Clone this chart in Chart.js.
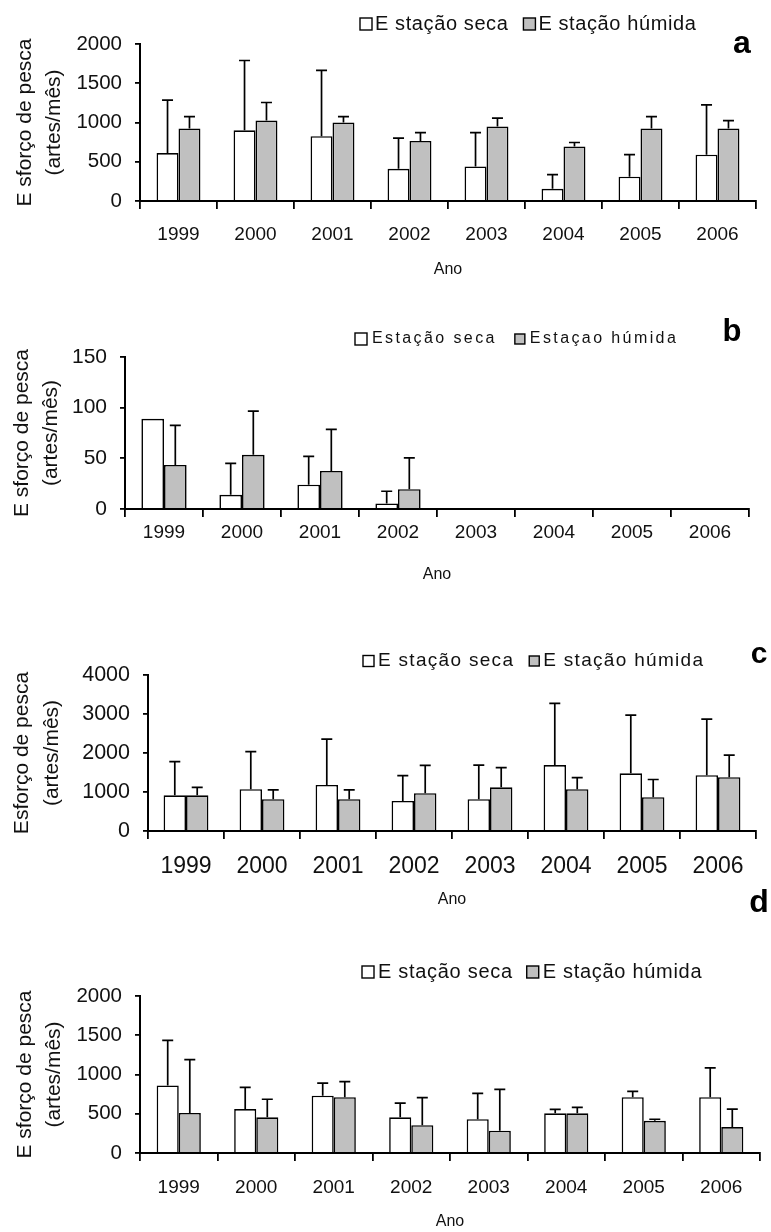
<!DOCTYPE html>
<html><head><meta charset="utf-8">
<script src="https://cdn.jsdelivr.net/npm/chart.js@4.4.1/dist/chart.umd.min.js"></script>
<style>
html,body{margin:0;padding:0;background:#fff;}
body{width:771px;height:1232px;position:relative;overflow:hidden;}
canvas{position:absolute;left:0;display:block;}
</style></head><body>
<canvas id="ca"></canvas>
<canvas id="cb"></canvas>
<canvas id="cc"></canvas>
<canvas id="cd"></canvas>
<script>
// ---------- DATA ----------
const years = ['1999','2000','2001','2002','2003','2004','2005','2006'];

const aDry    = [610, 900, 825, 410, 440, 155, 310, 590];
const aDryErr = [675, 890, 840, 390, 430, 180, 280, 635];
const aWet    = [925, 1025, 1000, 765, 950, 695, 925, 925];
const aWetErr = [150, 230, 75, 105, 105, 50, 150, 100];

const bDry    = [89, 14, 24, 5.5, null, null, null, null];
const bDryErr = [0, 31, 28, 12, 0, 0, 0, 0];
const bWet    = [43.5, 53.5, 37.5, 19.5, null, null, null, null];
const bWetErr = [39, 43, 41, 31, 0, 0, 0, 0];

const cDry    = [915, 1070, 1180, 770, 815, 1690, 1480, 1430];
const cDryErr = [865, 965, 1175, 650, 875, 1585, 1490, 1440];
const cWet    = [915, 815, 815, 970, 1120, 1070, 865, 1380];
const cWetErr = [205, 240, 240, 715, 505, 300, 455, 565];

const dDry    = [860, 560, 730, 455, 430, 505, 710, 710];
const dDryErr = [575, 275, 160, 180, 330, 50, 75, 375];
const dWet    = [510, 455, 710, 355, 285, 505, 410, 330];
const dWetErr = [680, 230, 200, 350, 525, 75, 20, 230];

const yTicksA = [0, 500, 1000, 1500, 2000];
const yTicksB = [0, 50, 100, 150];
const yTicksC = [0, 1000, 2000, 3000, 4000];
const yTicksD = [0, 500, 1000, 1500, 2000];

const legendA = ['E stação seca', 'E stação húmida'];
const legendB = ['Estação seca', 'Estaçao húmida'];
const legendC = ['E stação seca', 'E stação húmida'];
const legendD = ['E stação seca', 'E stação húmida'];

const yTitleAB = ['E sforço de pesca', '(artes/mês)'];
const yTitleC  = ['Esforço de pesca', '(artes/mês)'];
const xTitle   = 'Ano';

// ---------- STYLE / LAYOUT ----------
const FONT = "'Liberation Sans', Arial, Helvetica, sans-serif";
const INK = '#111';
const GREY = '#c0c0c0';
const W = 771;

const errorBars = {
  id: 'errorBars',
  afterDatasetsDraw(chart) {
    const ctx = chart.ctx, ys = chart.scales.y;
    chart.data.datasets.forEach((ds, di) => {
      const meta = chart.getDatasetMeta(di);
      meta.data.forEach((bar, i) => {
        const v = ds.data[i], e = ds.errors[i];
        if (v == null || !e) return;
        const y0 = ys.getPixelForValue(v), y1 = ys.getPixelForValue(v + e);
        ctx.save();
        ctx.strokeStyle = '#000'; ctx.lineWidth = 1.7;
        ctx.beginPath();
        ctx.moveTo(bar.x, y0); ctx.lineTo(bar.x, y1);
        ctx.moveTo(bar.x - 5.5, y1); ctx.lineTo(bar.x + 5.5, y1);
        ctx.stroke();
        ctx.restore();
      });
    });
  }
};

const panelDecor = {
  id: 'panelDecor',
  afterDraw(chart, args, o) {
    const ctx = chart.ctx;
    ctx.save();
    ctx.font = o.legendFont + 'px ' + FONT;
    ctx.letterSpacing = o.letterSpacing + 'px';
    ctx.textBaseline = 'middle';
    ctx.textAlign = 'left';
    let x = o.legendX;
    chart.data.datasets.forEach((ds, i) => {
      const bs = o.boxSizes[i];
      ctx.fillStyle = ds.backgroundColor;
      ctx.fillRect(x, o.legendY - bs / 2, bs, bs);
      ctx.strokeStyle = '#000'; ctx.lineWidth = 1.4;
      ctx.strokeRect(x, o.legendY - bs / 2, bs, bs);
      x += bs + o.boxGap;
      ctx.fillStyle = INK;
      ctx.fillText(ds.label, x, o.legendY);
      x += ctx.measureText(ds.label).width + o.itemGap;
    });
    ctx.letterSpacing = '0px';
    ctx.font = 'bold ' + o.letterFont + 'px ' + FONT;
    ctx.textAlign = 'center';
    ctx.fillStyle = '#000';
    ctx.fillText(o.letter, o.letterX, o.letterY);
    ctx.restore();
  }
};

function makePanel(id, cfg) {
  const cv = document.getElementById(id);
  cv.width = W; cv.height = cfg.H;
  cv.style.top = cfg.top + 'px';
  cv.style.width = W + 'px'; cv.style.height = cfg.H + 'px';
  const xLh = cfg.xFont * 1.2;
  const tLh = cfg.titleFont * 1.2;
  const yTLh = cfg.yTitleFont * cfg.yTitleLH;
  const tickLenX = 8, tickLenY = 5;
  new Chart(cv, {
    type: 'bar',
    data: {
      labels: years,
      datasets: [
        { label: cfg.legend[0], data: cfg.dry, errors: cfg.dryErr,
          backgroundColor: '#ffffff', borderColor: '#000', borderWidth: 1.6,
          categoryPercentage: cfg.catPct, barPercentage: 1 },
        { label: cfg.legend[1], data: cfg.wet, errors: cfg.wetErr,
          backgroundColor: GREY, borderColor: '#000', borderWidth: 1.6,
          categoryPercentage: cfg.catPct, barPercentage: 1 }
      ]
    },
    options: {
      responsive: false, animation: false,
      layout: { padding: { top: cfg.areaTop, left: 0, right: W - cfg.areaRight, bottom: 0 } },
      plugins: {
        legend: { display: false }, tooltip: { enabled: false },
        panelDecor: cfg.decor
      },
      scales: {
        x: {
          grid: { display: true, drawOnChartArea: false, offset: true, color: '#000', lineWidth: 1.8, tickLength: tickLenX },
          border: { display: true, color: '#000', width: 2 },
          ticks: { color: INK, font: { family: FONT, size: cfg.xFont }, maxRotation: 0, autoSkip: false,
                   padding: cfg.xLabelY - cfg.areaBottom - tickLenX - xLh / 2 },
          title: { display: true, text: xTitle, color: INK, font: { family: FONT, size: cfg.titleFont },
                   padding: { top: 0, bottom: cfg.H - cfg.anoY - tLh / 2 } },
          afterFit(s) { s.height = cfg.H - cfg.areaBottom; }
        },
        y: {
          min: cfg.yTicks[0], max: cfg.yTicks[cfg.yTicks.length - 1],
          afterBuildTicks(s) { s.ticks = cfg.yTicks.map(v => ({ value: v })); },
          grid: { display: true, drawOnChartArea: false, color: '#000', lineWidth: 1.8, tickLength: tickLenY },
          border: { display: true, color: '#000', width: 2 },
          ticks: { color: INK, font: { family: FONT, size: cfg.yFont }, padding: cfg.yTickPad,
                   callback: v => String(v) },
          title: { display: true, text: cfg.yTitle, color: INK,
                   font: { family: FONT, size: cfg.yTitleFont, lineHeight: cfg.yTitleLH },
                   padding: { top: cfg.yTitleX - yTLh / 2, bottom: 0 } },
          afterFit(s) { s.width = cfg.areaLeft; }
        }
      }
    },
    plugins: [errorBars, panelDecor]
  });
}

makePanel('ca', {
  top: 0, H: 290, areaLeft: 140, areaRight: 756, areaTop: 44, areaBottom: 201,
  xLabelY: 235, anoY: 270, xFont: 19, yFont: 20.5, titleFont: 16, yTickPad: 13,
  yTitle: yTitleAB, yTitleFont: 21, yTitleLH: 1.4, yTitleX: 25, catPct: 0.57,
  yTicks: yTicksA, dry: aDry, dryErr: aDryErr, wet: aWet, wetErr: aWetErr, legend: legendA,
  decor: { legendX: 360, legendY: 24, legendFont: 20, letterSpacing: 0.6, boxSizes: [12, 12], boxGap: 3, itemGap: 15,
           letter: 'a', letterX: 742, letterY: 44, letterFont: 32 }
});
makePanel('cb', {
  top: 290, H: 295, areaLeft: 125, areaRight: 749, areaTop: 67, areaBottom: 219,
  xLabelY: 243, anoY: 285, xFont: 19, yFont: 21, titleFont: 16, yTickPad: 13,
  yTitle: yTitleAB, yTitleFont: 21, yTitleLH: 1.4, yTitleX: 22, catPct: 0.58,
  yTicks: yTicksB, dry: bDry, dryErr: bDryErr, wet: bWet, wetErr: bWetErr, legend: legendB,
  decor: { legendX: 355, legendY: 49, legendFont: 16, letterSpacing: 2.4, boxSizes: [12, 10], boxGap: 5, itemGap: 18,
           letter: 'b', letterX: 732, letterY: 42, letterFont: 31 }
});
makePanel('cc', {
  top: 560, H: 350, areaLeft: 148, areaRight: 756, areaTop: 115, areaBottom: 271,
  xLabelY: 306.5, anoY: 340, xFont: 23, yFont: 21.5, titleFont: 16, yTickPad: 13,
  yTitle: yTitleC, yTitleFont: 21, yTitleLH: 1.45, yTitleX: 22, catPct: 0.59,
  yTicks: yTicksC, dry: cDry, dryErr: cDryErr, wet: cWet, wetErr: cWetErr, legend: legendC,
  decor: { legendX: 363, legendY: 101, legendFont: 19, letterSpacing: 1.3, boxSizes: [11, 10], boxGap: 4, itemGap: 15,
           letter: 'c', letterX: 759, letterY: 95, letterFont: 30 }
});
makePanel('cd', {
  top: 880, H: 352, areaLeft: 140, areaRight: 760, areaTop: 116, areaBottom: 273,
  xLabelY: 308, anoY: 342, xFont: 19, yFont: 20.5, titleFont: 16, yTickPad: 13,
  yTitle: yTitleAB, yTitleFont: 21, yTitleLH: 1.4, yTitleX: 25, catPct: 0.57,
  yTicks: yTicksD, dry: dDry, dryErr: dDryErr, wet: dWet, wetErr: dWetErr, legend: legendD,
  decor: { legendX: 362, legendY: 92, legendFont: 20, letterSpacing: 0.7, boxSizes: [12, 12], boxGap: 4, itemGap: 14,
           letter: 'd', letterX: 759, letterY: 23, letterFont: 32 }
});
</script>
</body></html>
